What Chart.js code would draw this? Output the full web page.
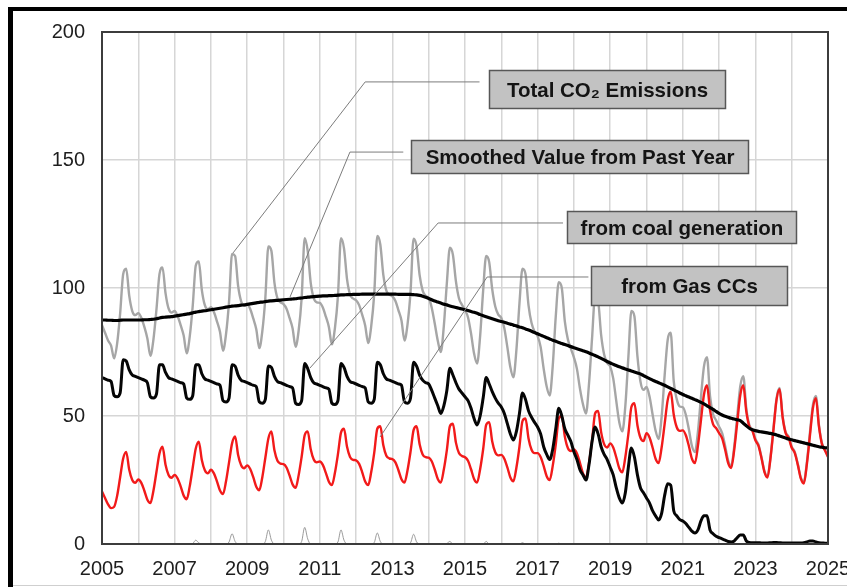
<!DOCTYPE html>
<html>
<head>
<meta charset="utf-8">
<title>CO2 emissions</title>
<script src="https://cdn.jsdelivr.net/npm/chart.js@4"></script>
<style>
  html, body { margin: 0; padding: 0; background: #fff; }
  #wrap { position: relative; width: 847px; height: 587px; overflow: hidden; }
  canvas { display: block; }
</style>
</head>
<body>
<div id="wrap"><canvas id="chart" width="847" height="587"></canvas></div>
<script>
// Monthly series, January 2005 through January 2025 (one row per year).
const START_YEAR = 2005;
const END_YEAR = 2025;
const X_LABEL_YEARS = [2005, 2007, 2009, 2011, 2013, 2015, 2017, 2019, 2021, 2023, 2025];
const Y_TICKS = [0, 50, 100, 150, 200];

const TOTAL = [
  85.5, 82.5, 79.5, 77.5, 72.5, 78.3, 90.1, 105.4, 107.5, 97, 91, 89.4,
  90.2, 88.4, 84.8, 80.3, 73.5, 79.8, 91.6, 105.4, 108, 98, 92, 90.4,
  91, 89.1, 85.5, 81.4, 74.5, 81, 93.1, 108.8, 110.4, 99.3, 93.3, 91.6,
  92.5, 90.6, 87, 82.9, 75.5, 82, 94.7, 113.3, 112.5, 100.8, 94.8, 93.1,
  93.7, 91.8, 88.1, 83.9, 76.5, 83.1, 96.2, 116.2, 114.5, 102.1, 96, 94.4,
  93.7, 91.9, 88.3, 84.3, 77, 83.3, 96.1, 119.5, 114.5, 102, 96, 94.4,
  94.2, 92.4, 88.8, 84.8, 78, 84.3, 96.9, 119.5, 115.5, 103.5, 97.5, 95.9,
  95.2, 93.3, 89.6, 85.4, 78.5, 85.1, 97.8, 120.3, 117, 105.1, 99, 97.4,
  96.7, 94.9, 91.3, 87.3, 79.5, 85.8, 98.6, 119.3, 116.3, 105, 99, 96.9,
  96.2, 92.3, 86.1, 79.4, 75, 85.1, 101.9, 115.7, 113, 102.6, 96, 93.4,
  91.4, 88.5, 82.2, 74.4, 70.5, 81.2, 99, 112.5, 110.1, 99.5, 92.8, 89.6,
  88.3, 84.3, 76.9, 69, 65.1, 75.9, 94, 107.5, 105.5, 93.2, 86.3, 83,
  81.2, 77, 68.5, 61.5, 58, 69.5, 88.8, 102.3, 100, 87, 80, 76.3,
  72.9, 68.4, 60.7, 54.6, 51, 62.7, 80.3, 96.7, 95, 81.7, 74, 70.7,
  69.3, 64.7, 55.9, 47.6, 44, 53.9, 72.9, 91, 89, 73.4, 63.5, 60.2,
  61.3, 57.6, 50.7, 44.3, 41, 49.7, 65.9, 79.7, 82.5, 63.6, 56.6, 53.7,
  53.4, 50.5, 44.8, 38.4, 35.9, 43.8, 57.3, 69.4, 73, 57.8, 50.8, 48.3,
  45.8, 43.3, 38.3, 32.6, 30.5, 38, 50, 61.6, 65.5, 52.9, 46.5, 44.7,
  41, 38.9, 34, 28.5, 26.4, 34.1, 45.6, 57, 61, 49.9, 43.7, 41.9,
  38, 36, 31.4, 26, 24.1, 31.8, 43.2, 54.2, 57.8, 46.5, 39.4, 36.8,
  34.2
];

const SMOOTHED = [
  87.5, 87.5, 87.4, 87.4, 87.3, 87.3, 87.4, 87.5, 87.5, 87.5, 87.5, 87.5,
  87.5, 87.5, 87.6, 87.6, 87.7, 87.8, 88.0, 88.3, 88.5, 88.6, 88.7, 88.8,
  89.0, 89.2, 89.4, 89.6, 89.8, 90.0, 90.3, 90.6, 90.8, 91.0, 91.1, 91.3,
  91.5, 91.7, 91.9, 92.1, 92.3, 92.5, 92.7, 92.9, 93.0, 93.1, 93.3, 93.4,
  93.6, 93.8, 94.0, 94.2, 94.4, 94.5, 94.7, 94.9, 95.0, 95.1, 95.2, 95.3,
  95.4, 95.5, 95.6, 95.7, 95.8, 96.0, 96.1, 96.3, 96.4, 96.5, 96.6, 96.7,
  96.8, 96.9, 96.9, 97.0, 97.0, 97.1, 97.2, 97.3, 97.3, 97.4, 97.4, 97.5,
  97.5, 97.5, 97.6, 97.6, 97.6, 97.6, 97.6, 97.6, 97.6, 97.6, 97.6, 97.6,
  97.6, 97.6, 97.5, 97.5, 97.5, 97.5, 97.5, 97.4, 97.3, 97.1, 96.8, 96.4,
  95.9, 95.4, 94.9, 94.5, 94.1, 93.7, 93.4, 93.0, 92.7, 92.4, 92.1, 91.8,
  91.5, 91.2, 90.8, 90.5, 90.1, 89.6, 89.2, 88.8, 88.4, 88.0, 87.6, 87.2,
  86.9, 86.6, 86.2, 85.9, 85.5, 85.2, 84.8, 84.5, 84.0, 83.6, 83.1, 82.6,
  82.1, 81.6, 81.1, 80.6, 80.1, 79.6, 79.2, 78.7, 78.3, 77.9, 77.5, 77.1,
  76.7, 76.3, 75.9, 75.5, 75.1, 74.6, 74.1, 73.6, 73.1, 72.5, 71.9, 71.3,
  70.7, 70.2, 69.7, 69.2, 68.8, 68.4, 68.0, 67.6, 67.2, 66.8, 66.4, 65.8,
  65.2, 64.6, 64.0, 63.5, 63.0, 62.5, 62.0, 61.4, 60.8, 60.2, 59.6, 59.0,
  58.4, 57.9, 57.4, 56.9, 56.4, 55.9, 55.3, 54.7, 54.0, 53.3, 52.6, 51.8,
  51.0, 50.4, 49.9, 49.5, 49.1, 48.8, 48.5, 48.2, 47.2, 46.2, 45.2, 44.6,
  44.3, 44.0, 43.8, 43.6, 43.4, 43.2, 42.9, 42.6, 42.2, 41.8, 41.4, 41.0,
  40.7, 40.4, 40.1, 39.8, 39.5, 39.2, 38.9, 38.6, 38.3, 38.0, 37.8, 37.6,
  37.5
];

const COAL = [
  65, 64.5, 64, 63.5, 58, 57.5, 59, 72, 71.5, 68, 66, 65.5,
  65, 64.5, 64, 63, 57.5, 57, 58.5, 70, 70, 67, 65, 64.5,
  64, 63.5, 63, 62.5, 57, 56.5, 58, 70, 70, 66.5, 64.5, 64,
  63.5, 63, 62.5, 62, 56, 55.5, 57, 70, 69.5, 66, 64, 63.5,
  63, 62.5, 62, 61.5, 55.5, 55, 56.5, 69.5, 69, 65.5, 63.5, 63,
  62.5, 62, 61.5, 61, 55, 54.5, 56, 70.5, 68.5, 65, 63, 62.5,
  62, 61.5, 61, 60.5, 55, 54.5, 56, 70.5, 69, 65.5, 63.5, 63,
  62.5, 62, 61.5, 61, 55.5, 55, 56.5, 71, 70, 66.5, 64.5, 64,
  63.5, 63, 62.5, 62, 55.5, 55, 57, 71, 69.5, 66, 64, 63,
  62.5, 60, 57, 54, 51, 54, 60, 68.7, 66, 63, 60.5, 59,
  57.5, 56, 53, 49, 46.5, 50, 57, 65, 62.5, 59.5, 57, 55,
  53.5, 51, 47, 43, 40.6, 44, 51, 59, 56.5, 52, 49.5, 47.5,
  45.7, 43, 38, 35, 33, 37, 45, 53, 50, 45, 42.5, 40,
  36, 33, 29, 27, 25, 31, 40, 45.7, 43, 38, 35, 33,
  30, 27, 22, 18, 16, 20, 30, 37.5, 34, 27, 22, 20,
  18, 16, 13, 11, 9.4, 12, 19, 23.5, 23, 13, 11, 9.5,
  9, 8, 6.5, 5, 4.3, 5.5, 9, 11, 11, 5.5, 4, 3,
  2.5, 2, 1.5, 1, 0.8, 1.2, 2.5, 3.5, 3.5, 1.2, 0.6, 0.5,
  0.5, 0.5, 0.4, 0.4, 0.4, 0.5, 0.6, 0.6, 0.5, 0.4, 0.4, 0.4,
  0.4, 0.4, 0.4, 0.4, 0.5, 0.8, 1.2, 1.2, 0.8, 0.5, 0.4, 0.3,
  0.2
];

const GAS = [
  20.5, 18, 15.5, 14, 14.5, 18.8, 26.1, 33.4, 36, 29, 25, 23.9,
  25.2, 23.9, 20.8, 17.3, 16, 20.8, 28.1, 35.4, 38, 31, 27, 25.9,
  27, 25.6, 22.5, 18.9, 17.5, 22.5, 29.9, 37.3, 40, 32.8, 28.8, 27.6,
  29, 27.6, 24.5, 20.9, 19.5, 24.5, 31.9, 39.3, 42, 34.8, 30.8, 29.6,
  30.7, 29.3, 26.1, 22.4, 21, 26.1, 33.7, 41.2, 44, 36.6, 32.5, 31.4,
  31.2, 29.9, 26.8, 23.3, 22, 26.8, 34.1, 42.5, 44, 37, 33, 31.9,
  32.2, 30.9, 27.8, 24.3, 23, 27.8, 35.1, 43.5, 45, 38, 34, 32.9,
  32.7, 31.3, 28.1, 24.4, 23, 28.1, 35.7, 45, 46, 38.6, 34.5, 33.4,
  33.2, 31.9, 28.8, 25.3, 24, 28.8, 36.1, 44.5, 46, 39, 35, 33.9,
  33.7, 32.3, 29.1, 25.4, 24, 29.1, 36.7, 46, 47, 39.6, 35.5, 34.4,
  33.9, 32.5, 29.2, 25.4, 24, 29.2, 37, 46.5, 47.6, 40, 35.8, 34.6,
  34.8, 33.3, 29.9, 26, 24.5, 29.9, 38, 48, 49, 41.2, 36.8, 35.5,
  35.5, 34, 30.5, 26.5, 25, 30.5, 38.8, 49, 50, 42, 37.5, 36.3,
  36.9, 35.4, 31.7, 27.6, 26, 31.7, 40.3, 51, 52, 43.7, 39, 37.7,
  39.3, 37.7, 33.9, 29.6, 28, 33.9, 42.9, 53.5, 55, 46.4, 41.5, 40.2,
  43.3, 41.6, 37.7, 33.3, 31.6, 37.7, 46.9, 56.2, 59.5, 50.6, 45.6, 44.2,
  44.4, 42.5, 38.3, 33.4, 31.6, 38.3, 48.3, 58.4, 62, 52.3, 46.8, 45.3,
  43.3, 41.3, 36.8, 31.6, 29.7, 36.8, 47.5, 58.1, 62, 51.7, 45.9, 44.2,
  40.5, 38.4, 33.6, 28.1, 26, 33.6, 45, 56.4, 60.5, 49.5, 43.3, 41.5,
  37.6, 35.6, 31, 25.6, 23.6, 31, 42, 53, 57, 46, 39, 36.5,
  34
];

// Summer peaking units (small spikes near the axis)
const PEAKERS = [
  0, 0, 0, 0, 0, 0, 0, 0, 0, 0, 0, 0,
  0, 0, 0, 0, 0, 0, 0, 0, 0, 0, 0, 0,
  0, 0, 0, 0, 0, 0, 0.2, 1.5, 0.4, 0, 0, 0,
  0, 0, 0, 0, 0, 0, 0.8, 4, 1, 0, 0, 0,
  0, 0, 0, 0, 0, 0, 1, 5.5, 1.5, 0, 0, 0,
  0, 0, 0, 0, 0, 0, 1, 6.5, 2, 0, 0, 0,
  0, 0, 0, 0, 0, 0, 0.8, 5.5, 1.5, 0, 0, 0,
  0, 0, 0, 0, 0, 0, 0.6, 4.3, 1, 0, 0, 0,
  0, 0, 0, 0, 0, 0, 0.5, 3.8, 0.8, 0, 0, 0,
  0, 0, 0, 0, 0, 0, 0.2, 1, 0, 0, 0, 0,
  0, 0, 0, 0, 0, 0, 0, 1, 0, 0, 0, 0,
  0, 0, 0, 0, 0, 0, 0, 0.5, 0, 0, 0, 0,
  0, 0, 0, 0, 0, 0, 0, 0.3, 0, 0, 0, 0,
  0, 0, 0, 0, 0, 0, 0, 0, 0, 0, 0, 0,
  0, 0, 0, 0, 0, 0, 0, 0, 0, 0, 0, 0,
  0, 0, 0, 0, 0, 0, 0, 0, 0, 0, 0, 0,
  0, 0, 0, 0, 0, 0, 0, 0, 0, 0, 0, 0,
  0, 0, 0, 0, 0, 0, 0, 0, 0, 0, 0, 0,
  0, 0, 0, 0, 0, 0, 0, 0, 0, 0, 0, 0,
  0, 0, 0, 0, 0, 0, 0, 0, 0, 0, 0, 0,
  0
];

// Labelled call-outs: box corners and leader polyline in axis units (years, values).
const CALLOUTS = [
  { text: 'Total CO\u2082 Emissions', box: [2015.66, 2022.16, 185.2, 170.3],
    leader: [[2015.4, 180.5], [2012.25, 180.5], [2008.61, 113.7]] },
  { text: 'Smoothed Value from Past Year', box: [2013.51, 2022.80, 157.8, 144.9],
    leader: [[2013.3, 153.1], [2011.83, 153.1], [2010.18, 96.5]] },
  { text: 'from coal generation', box: [2017.81, 2024.12, 130.1, 117.6],
    leader: [[2017.7, 125.4], [2014.26, 125.4], [2010.73, 68.75]] },
  { text: 'from Gas CCs', box: [2018.47, 2023.87, 108.6, 93.4],
    leader: [[2018.4, 104.3], [2015.61, 104.3], [2012.66, 41.8]] }
];

const FONT = '"Liberation Sans", Arial, Helvetica, sans-serif';

const toPoints = arr => arr.map((v, i) => ({ x: START_YEAR + i / 12, y: v }));

// Page frame and the plot-area outline.
const framePlugin = {
  id: 'frame',
  beforeDraw(chart) {
    const { ctx, width, height } = chart;
    ctx.save();
    ctx.fillStyle = '#ffffff';
    ctx.fillRect(0, 0, width, height);
    ctx.fillStyle = '#000000';
    ctx.fillRect(8, 7, width - 8, 4);
    ctx.fillRect(8, 7, 5, height - 7);
    ctx.fillStyle = '#cfcfcf';
    ctx.fillRect(13, height - 2, width - 13, 1);
    ctx.restore();
  },
  afterDraw(chart) {
    const { ctx, chartArea: a } = chart;
    ctx.save();
    ctx.strokeStyle = '#3c3c3c';
    ctx.lineWidth = 2;
    ctx.strokeRect(a.left, a.top, a.right - a.left, a.bottom - a.top);
    ctx.restore();
  }
};

// Grey label boxes with thin leader lines.
const calloutPlugin = {
  id: 'callouts',
  afterDatasetsDraw(chart) {
    const { ctx, scales: { x, y } } = chart;
    ctx.save();
    ctx.strokeStyle = '#7c7c7c';
    ctx.lineWidth = 1;
    CALLOUTS.forEach(c => {
      ctx.beginPath();
      c.leader.forEach(([lx, ly], i) => {
        const px = x.getPixelForValue(lx);
        const py = y.getPixelForValue(ly);
        if (i === 0) ctx.moveTo(px, py); else ctx.lineTo(px, py);
      });
      ctx.stroke();
    });
    const size = 20.5;
    ctx.font = 'bold ' + size + 'px ' + FONT;
    ctx.textAlign = 'center';
    ctx.textBaseline = 'alphabetic';
    CALLOUTS.forEach(c => {
      const [x1, x2, y1, y2] = c.box;
      const l = Math.round(x.getPixelForValue(x1)) + 0.5;
      const r = Math.round(x.getPixelForValue(x2)) + 0.5;
      const t = Math.round(y.getPixelForValue(y1)) + 0.5;
      const b = Math.round(y.getPixelForValue(y2)) + 0.5;
      ctx.fillStyle = '#c2c2c2';
      ctx.fillRect(l, t, r - l, b - t);
      ctx.strokeStyle = '#575757';
      ctx.lineWidth = 1.5;
      ctx.strokeRect(l, t, r - l, b - t);
      ctx.fillStyle = '#141414';
      ctx.fillText(c.text, (l + r) / 2, (t + b) / 2 + size * 0.716 / 2);
    });
    ctx.restore();
  }
};

const lineStyle = (color, width) => ({
  borderColor: color,
  borderWidth: width,
  pointRadius: 0,
  pointHoverRadius: 0,
  fill: false,
  cubicInterpolationMode: 'monotone',
  borderJoinStyle: 'round',
  borderCapStyle: 'round'
});

new Chart(document.getElementById('chart'), {
  type: 'line',
  data: {
    datasets: [
      { label: 'Smoothed Value from Past Year', data: toPoints(SMOOTHED), order: 0, ...lineStyle('#000000', 3.2) },
      { label: 'from coal generation', data: toPoints(COAL), order: 1, ...lineStyle('#050505', 3) },
      { label: 'from Gas CCs', data: toPoints(GAS), order: 2, ...lineStyle('#f21a1a', 2.4) },
      { label: 'Peaking units', data: toPoints(PEAKERS), order: 3, ...lineStyle('#9a9a9a', 1) },
      { label: 'Total CO\u2082 Emissions', data: toPoints(TOTAL), order: 4, ...lineStyle('#a6a6a6', 2.4) }
    ]
  },
  options: {
    responsive: false,
    animation: false,
    events: [],
    layout: { padding: { left: 0, top: 32, right: 19, bottom: 0 } },
    plugins: { legend: { display: false }, tooltip: { enabled: false } },
    scales: {
      x: {
        type: 'linear',
        min: START_YEAR,
        max: END_YEAR,
        grid: { color: '#d6d6d6', lineWidth: 1.5, drawTicks: false },
        border: { display: false },
        ticks: {
          stepSize: 1,
          maxTicksLimit: 40,
          autoSkip: false,
          maxRotation: 0,
          padding: 13,
          color: '#1e1e1e',
          font: { family: FONT, size: 20 },
          callback: v => (X_LABEL_YEARS.includes(v) ? String(v) : '')
        },
        afterFit(scale) {
          scale.height = 43;
          scale.paddingLeft = 0;
          scale.paddingRight = 0;
        }
      },
      y: {
        min: Y_TICKS[0],
        max: Y_TICKS[Y_TICKS.length - 1],
        grid: { color: '#d6d6d6', lineWidth: 1.5, drawTicks: false },
        border: { display: false },
        ticks: {
          stepSize: 50,
          padding: 17,
          color: '#1e1e1e',
          font: { family: FONT, size: 20 },
          callback: v => (Y_TICKS.includes(v) ? String(v) : '')
        },
        afterFit(scale) {
          scale.width = 102;
          scale.paddingTop = 0;
          scale.paddingBottom = 0;
        }
      }
    }
  },
  plugins: [framePlugin, calloutPlugin]
});
</script>
</body>
</html>
